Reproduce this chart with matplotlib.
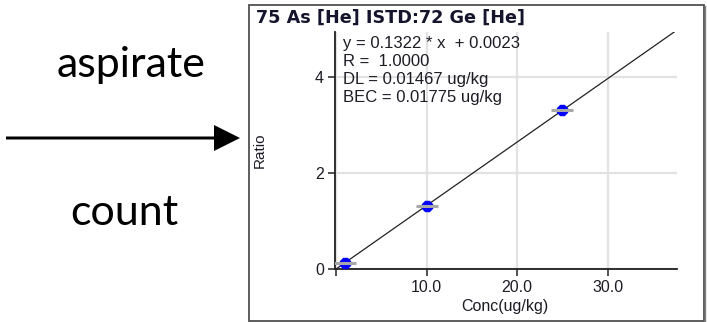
import matplotlib
matplotlib.use("Agg")
import matplotlib.pyplot as plt
from matplotlib.patches import Rectangle, FancyArrow

# ---- data ----
conc = [1.0, 10.0, 25.0]
ratio = [0.135, 1.32, 3.31]
fit_x = [-0.13, 37.5]
slope = 0.1322
intercept = 0.0023
fit_y = [slope * v + intercept for v in fit_x]
xticks = [0, 10, 20, 30]
xtick_labels = ["", "10.0", "20.0", "30.0"]
yticks = [0, 2, 4]
ytick_labels = ["0", "2", "4"]
title = "75 As [He] ISTD:72 Ge [He]"
info_lines = ["y = 0.1322 * x  + 0.0023", "R =  1.0000",
              "DL = 0.01467 ug/kg", "BEC = 0.01775 ug/kg"]
left_top = "aspirate"
left_bottom = "count"

W, H = 707, 322
fig = plt.figure(figsize=(W / 100, H / 100), dpi=100)
fig.patch.set_facecolor("white")

# background pixel-coordinate axes
bg = fig.add_axes([0, 0, 1, 1], zorder=0)
bg.set_xlim(0, W)
bg.set_ylim(H, 0)
bg.axis("off")

sans = ["Liberation Sans", "DejaVu Sans"]
txtc = "#1c1c24"

# panel border
bg.add_patch(Rectangle((249, 5), 455, 315.5, fill=False, edgecolor="#505050", lw=1.3))
bg.plot([705.3, 705.3], [6, 321.5], color="#808080", lw=1.0)

# title
bg.text(256, 18, title, fontsize=12.7, fontweight="bold", family=["DejaVu Sans"],
        color="#14142c", va="center", ha="left")

# axis labels
bg.text(260, 150, "Ratio", fontsize=11, family=sans, color=txtc, rotation=90,
        va="center", ha="center")
bg.text(505, 306, "Conc(ug/kg)", fontsize=11.5, family=sans, color=txtc,
        va="center", ha="center")

# left annotations
lato = ["Lato", "DejaVu Sans"]
bg.text(131, 77, left_top, fontsize=31, family=lato, color="black",
        va="baseline", ha="center")
bg.text(124, 225, left_bottom, fontsize=31, family=lato, color="black",
        va="baseline", ha="center")
bg.add_patch(FancyArrow(6, 138, 234, 0, width=3, head_width=26, head_length=26,
                        length_includes_head=True, color="black", lw=0))

# main axes
l, r, t, b = 335, 677, 32, 269
ax = fig.add_axes([l / W, 1 - b / H, (r - l) / W, (b - t) / H], zorder=1)
ax.patch.set_alpha(0)
ax.set_xlim(-0.13, 37.66)
ax.set_ylim(0, 4.94)
for s in ["top", "right"]:
    ax.spines[s].set_visible(False)
for s in ["left", "bottom"]:
    ax.spines[s].set_color("#202020")
    ax.spines[s].set_linewidth(1.3)

ax.set_xticks(xticks)
ax.set_xticklabels(xtick_labels)
ax.set_yticks(yticks)
ax.set_yticklabels(ytick_labels)
ax.tick_params(direction="out", length=5, width=1.1, color="#202020",
               labelsize=11.5, labelcolor=txtc, pad=3)
for lab in ax.get_xticklabels() + ax.get_yticklabels():
    lab.set_family(sans)
ax.grid(True, color="#e2e2e2", lw=1.6)
ax.set_axisbelow(True)

ax.plot(fit_x, fit_y, color="#222222", lw=0.9, zorder=3)
ax.plot(conc, ratio, ls="none", marker="8", ms=8.5, color="#0000ff",
        mec="#0000ff", zorder=4)
ax.plot(conc, ratio, ls="none", marker="_", ms=16, mew=2.2, color="#a8a8a8",
        zorder=5)

# info text drawn on top of the grid
for i, line in enumerate(info_lines):
    ax.text(343, 43 + i * 18, line, fontsize=12, family=sans, color=txtc,
            va="center", ha="left", transform=bg.transData, zorder=6)

fig.savefig("out.png", dpi=100, facecolor="white")
